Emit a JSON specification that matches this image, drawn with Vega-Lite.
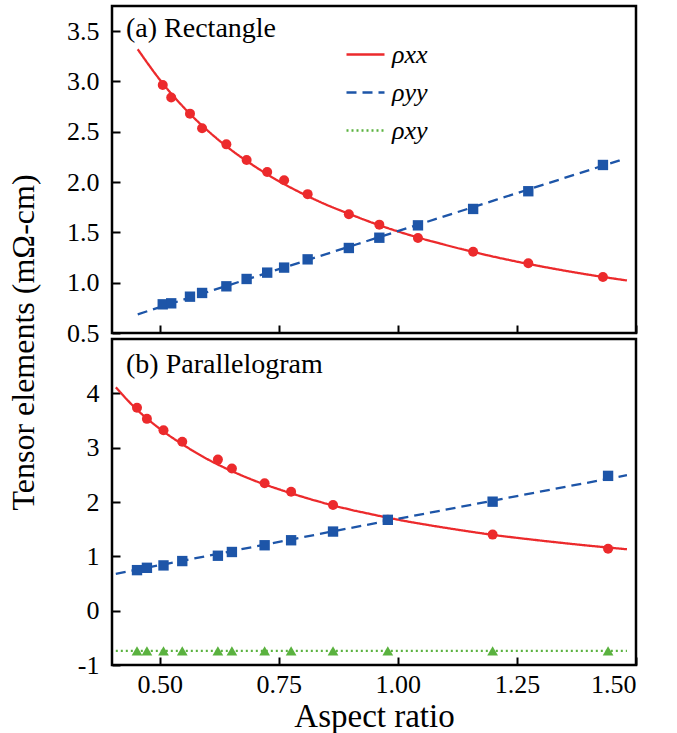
{
  "$schema": "https://vega.github.io/schema/vega-lite/v6.json",
  "background": "white",
  "padding": {"left": 5, "top": 4, "right": 5, "bottom": 0},
  "bounds": "flush",
  "spacing": 6,
  "config": {
    "font": "Liberation Serif",
    "view": {"stroke": "black", "strokeWidth": 2.5},
    "style": {"guide-label": {"font": "Liberation Serif"}, "guide-title": {"font": "Liberation Serif"}},
    "axis": {"labelFont": "Liberation Serif", "labelFontSize": 26, "labelColor": "black", "titleFont": "Liberation Serif", "titleFontWeight": "normal", "titleColor": "black", "titleFontSize": 30, "domain": false, "grid": false, "tickColor": "black", "tickWidth": 2, "tickSize": -8},
    "legend": {"labelFont": "Liberation Serif", "titleFont": "Liberation Serif"}
  },
  "datasets": {
    "rectPts": [
      {"ar": 0.5065, "v": 2.965, "s": "ρxx"}, {"ar": 0.5243, "v": 2.84, "s": "ρxx"}, {"ar": 0.5637, "v": 2.68, "s": "ρxx"}, {"ar": 0.5891, "v": 2.535, "s": "ρxx"}, {"ar": 0.6401, "v": 2.375, "s": "ρxx"}, {"ar": 0.6826, "v": 2.22, "s": "ρxx"}, {"ar": 0.7258, "v": 2.10, "s": "ρxx"}, {"ar": 0.7613, "v": 2.018, "s": "ρxx"}, {"ar": 0.8107, "v": 1.88, "s": "ρxx"}, {"ar": 0.8972, "v": 1.68, "s": "ρxx"}, {"ar": 0.9612, "v": 1.577, "s": "ρxx"}, {"ar": 1.0423, "v": 1.444, "s": "ρxx"}, {"ar": 1.1581, "v": 1.308, "s": "ρxx"}, {"ar": 1.2739, "v": 1.193, "s": "ρxx"}, {"ar": 1.4306, "v": 1.057, "s": "ρxx"},
      {"ar": 0.5065, "v": 0.785, "s": "ρyy"}, {"ar": 0.5243, "v": 0.795, "s": "ρyy"}, {"ar": 0.5637, "v": 0.861, "s": "ρyy"}, {"ar": 0.5891, "v": 0.898, "s": "ρyy"}, {"ar": 0.6401, "v": 0.964, "s": "ρyy"}, {"ar": 0.6826, "v": 1.037, "s": "ρyy"}, {"ar": 0.7258, "v": 1.10, "s": "ρyy"}, {"ar": 0.7613, "v": 1.15, "s": "ρyy"}, {"ar": 0.8107, "v": 1.232, "s": "ρyy"}, {"ar": 0.8972, "v": 1.345, "s": "ρyy"}, {"ar": 0.9612, "v": 1.447, "s": "ρyy"}, {"ar": 1.0423, "v": 1.57, "s": "ρyy"}, {"ar": 1.1581, "v": 1.733, "s": "ρyy"}, {"ar": 1.2739, "v": 1.909, "s": "ρyy"}, {"ar": 1.4306, "v": 2.17, "s": "ρyy"}
    ],
    "rectFit": [
      {"ar": 0.454, "v": 3.32, "s": "ρxx"}, {"ar": 0.50, "v": 3.02, "s": "ρxx"}, {"ar": 0.55, "v": 2.745, "s": "ρxx"}, {"ar": 0.60, "v": 2.515, "s": "ρxx"}, {"ar": 0.65, "v": 2.32, "s": "ρxx"}, {"ar": 0.70, "v": 2.155, "s": "ρxx"}, {"ar": 0.75, "v": 2.01, "s": "ρxx"}, {"ar": 0.80, "v": 1.885, "s": "ρxx"}, {"ar": 0.85, "v": 1.775, "s": "ρxx"}, {"ar": 0.90, "v": 1.68, "s": "ρxx"}, {"ar": 0.95, "v": 1.59, "s": "ρxx"}, {"ar": 1.00, "v": 1.51, "s": "ρxx"}, {"ar": 1.10, "v": 1.375, "s": "ρxx"}, {"ar": 1.20, "v": 1.26, "s": "ρxx"}, {"ar": 1.30, "v": 1.163, "s": "ρxx"}, {"ar": 1.40, "v": 1.08, "s": "ρxx"}, {"ar": 1.481, "v": 1.022, "s": "ρxx"},
      {"ar": 0.454, "v": 0.686, "s": "ρyy"}, {"ar": 1.00, "v": 1.512, "s": "ρyy"}, {"ar": 1.477, "v": 2.233, "s": "ρyy"}
    ],
    "paraPts": [
      {"ar": 0.4525, "v": 3.735, "s": "ρxx"}, {"ar": 0.4733, "v": 3.53, "s": "ρxx"}, {"ar": 0.5081, "v": 3.32, "s": "ρxx"}, {"ar": 0.5475, "v": 3.11, "s": "ρxx"}, {"ar": 0.6223, "v": 2.78, "s": "ρxx"}, {"ar": 0.6517, "v": 2.617, "s": "ρxx"}, {"ar": 0.7204, "v": 2.345, "s": "ρxx"}, {"ar": 0.7760, "v": 2.19, "s": "ρxx"}, {"ar": 0.8640, "v": 1.944, "s": "ρxx"}, {"ar": 0.9790, "v": 1.672, "s": "ρxx"}, {"ar": 1.1990, "v": 1.40, "s": "ρxx"}, {"ar": 1.4414, "v": 1.141, "s": "ρxx"},
      {"ar": 0.4525, "v": 0.746, "s": "ρyy"}, {"ar": 0.4733, "v": 0.789, "s": "ρyy"}, {"ar": 0.5081, "v": 0.833, "s": "ρyy"}, {"ar": 0.5475, "v": 0.913, "s": "ρyy"}, {"ar": 0.6223, "v": 1.011, "s": "ρyy"}, {"ar": 0.6517, "v": 1.08, "s": "ρyy"}, {"ar": 0.7204, "v": 1.204, "s": "ρyy"}, {"ar": 0.7760, "v": 1.296, "s": "ρyy"}, {"ar": 0.8640, "v": 1.456, "s": "ρyy"}, {"ar": 0.9790, "v": 1.672, "s": "ρyy"}, {"ar": 1.1990, "v": 2.006, "s": "ρyy"}, {"ar": 1.4414, "v": 2.481, "s": "ρyy"},
      {"ar": 0.4525, "v": -0.74, "s": "ρxy"}, {"ar": 0.4733, "v": -0.74, "s": "ρxy"}, {"ar": 0.5081, "v": -0.74, "s": "ρxy"}, {"ar": 0.5475, "v": -0.74, "s": "ρxy"}, {"ar": 0.6223, "v": -0.74, "s": "ρxy"}, {"ar": 0.6517, "v": -0.74, "s": "ρxy"}, {"ar": 0.7204, "v": -0.74, "s": "ρxy"}, {"ar": 0.7760, "v": -0.74, "s": "ρxy"}, {"ar": 0.8640, "v": -0.74, "s": "ρxy"}, {"ar": 0.9790, "v": -0.74, "s": "ρxy"}, {"ar": 1.1990, "v": -0.74, "s": "ρxy"}, {"ar": 1.4414, "v": -0.74, "s": "ρxy"}
    ],
    "paraFit": [
      {"ar": 0.408, "v": 4.11, "s": "ρxx"}, {"ar": 0.45, "v": 3.72, "s": "ρxx"}, {"ar": 0.50, "v": 3.35, "s": "ρxx"}, {"ar": 0.55, "v": 3.05, "s": "ρxx"}, {"ar": 0.60, "v": 2.79, "s": "ρxx"}, {"ar": 0.65, "v": 2.575, "s": "ρxx"}, {"ar": 0.70, "v": 2.39, "s": "ρxx"}, {"ar": 0.75, "v": 2.235, "s": "ρxx"}, {"ar": 0.80, "v": 2.095, "s": "ρxx"}, {"ar": 0.85, "v": 1.97, "s": "ρxx"}, {"ar": 0.90, "v": 1.86, "s": "ρxx"}, {"ar": 0.95, "v": 1.765, "s": "ρxx"}, {"ar": 1.00, "v": 1.675, "s": "ρxx"}, {"ar": 1.10, "v": 1.525, "s": "ρxx"}, {"ar": 1.20, "v": 1.395, "s": "ρxx"}, {"ar": 1.30, "v": 1.29, "s": "ρxx"}, {"ar": 1.40, "v": 1.197, "s": "ρxx"}, {"ar": 1.481, "v": 1.13, "s": "ρxx"},
      {"ar": 0.408, "v": 0.678, "s": "ρyy"}, {"ar": 1.00, "v": 1.69, "s": "ρyy"}, {"ar": 1.481, "v": 2.493, "s": "ρyy"},
      {"ar": 0.408, "v": -0.74, "s": "ρxy"}, {"ar": 1.481, "v": -0.74, "s": "ρxy"}
    ],
    "labels": [
      {"panel": "a", "name": "(a) Rectangle"},
      {"panel": "b", "name": "(b) Parallelogram"}
    ]
  },
  "resolve": {"scale": {"y": "independent"}, "legend": {"color": "independent", "strokeDash": "independent"}},
  "vconcat": [
    {
      "width": 524,
      "height": 327,
      "layer": [
        {
          "data": {"name": "rectFit"},
          "mark": {"type": "line", "interpolate": "monotone", "strokeWidth": 2.3},
          "encoding": {
            "x": {"field": "ar", "type": "quantitative", "scale": {"domain": [0.4, 1.5], "nice": false, "zero": false}, "axis": {"values": [0.5, 0.75, 1.0, 1.25, 1.5], "labels": false, "title": null}},
            "y": {"field": "v", "type": "quantitative", "scale": {"domain": [0.5, 3.75], "nice": false, "zero": false}, "axis": {"values": [0.5, 1.0, 1.5, 2.0, 2.5, 3.0, 3.5], "format": ".1f", "labelFont": "Liberation Serif", "labelFontSize": 26, "labelPadding": 21, "title": "Tensor elements (mΩ-cm)", "titleFont": "Liberation Serif", "titleFontSize": 32, "titleX": -79, "titleY": 336, "titleBaseline": "alphabetic", "titleAlign": "center"}},
            "color": {"field": "s", "type": "nominal", "scale": {"domain": ["ρxx", "ρyy", "ρxy"], "range": ["#ec2a2c", "#1d55a8", "#5ab23f"]}, "legend": {"title": null, "orient": "none", "legendX": 233, "legendY": 28, "symbolType": "stroke", "symbolSize": 1444, "symbolStrokeWidth": 2.5, "labelFont": "Liberation Serif", "labelFontSize": 26, "labelFontStyle": "italic", "labelColor": "black", "rowPadding": 4, "labelOffset": 6}},
            "strokeDash": {"field": "s", "type": "nominal", "scale": {"domain": ["ρxx", "ρyy", "ρxy"], "range": [[1, 0], [10, 6], [2, 3]]}, "legend": {"title": null, "orient": "none", "legendX": 233, "legendY": 28, "symbolType": "stroke", "symbolSize": 1444, "symbolStrokeWidth": 2.5, "labelFont": "Liberation Serif", "labelFontSize": 26, "labelFontStyle": "italic", "labelColor": "black", "rowPadding": 4, "labelOffset": 6}}
          }
        },
        {
          "data": {"name": "rectPts"},
          "mark": {"type": "point", "filled": true, "opacity": 1, "strokeWidth": 0},
          "encoding": {
            "x": {"field": "ar", "type": "quantitative"},
            "y": {"field": "v", "type": "quantitative"},
            "fill": {"field": "s", "type": "nominal", "scale": {"domain": ["ρxx", "ρyy", "ρxy"], "range": ["#ec2a2c", "#1d55a8", "#5ab23f"]}, "legend": null},
            "shape": {"field": "s", "type": "nominal", "scale": {"domain": ["ρxx", "ρyy", "ρxy"], "range": ["circle", "square", "triangle-up"]}, "legend": null},
            "size": {"field": "s", "type": "nominal", "scale": {"domain": ["ρxx", "ρyy", "ρxy"], "range": [100, 115, 75]}, "legend": null}
          }
        },
        {
          "data": {"name": "labels"},
          "transform": [{"filter": "datum.panel === 'a'"}],
          "mark": {"type": "text", "align": "left", "baseline": "alphabetic", "dx": 14, "dy": 31, "font": "Liberation Serif", "fontSize": 28, "color": "black"},
          "encoding": {"text": {"field": "name"}, "x": {"datum": 0.4}, "y": {"datum": 3.75}}
        }
      ]
    },
    {
      "width": 524,
      "height": 326,
      "layer": [
        {
          "data": {"name": "paraFit"},
          "mark": {"type": "line", "interpolate": "monotone", "strokeWidth": 2.3},
          "encoding": {
            "x": {"field": "ar", "type": "quantitative", "scale": {"domain": [0.4, 1.5], "nice": false, "zero": false}, "axis": {"values": [0.5, 0.75, 1.0, 1.25, 1.5], "format": ".2f", "labelFont": "Liberation Serif", "labelFontSize": 26, "labelPadding": 14, "title": "Aspect ratio", "titleFont": "Liberation Serif", "titleFontSize": 33, "titlePadding": 3}},
            "y": {"field": "v", "type": "quantitative", "scale": {"domain": [-1, 5], "nice": false, "zero": false}, "axis": {"values": [-1, 0, 1, 2, 3, 4], "format": "d", "labelExpr": "replace(datum.label, '\u2212', '-')", "labelFont": "Liberation Serif", "labelFontSize": 26, "labelPadding": 21, "title": null}},
            "color": {"field": "s", "type": "nominal", "scale": {"domain": ["ρxx", "ρyy", "ρxy"], "range": ["#ec2a2c", "#1d55a8", "#5ab23f"]}, "legend": null},
            "strokeDash": {"field": "s", "type": "nominal", "scale": {"domain": ["ρxx", "ρyy", "ρxy"], "range": [[1, 0], [10, 6], [2, 3]]}, "legend": null}
          }
        },
        {
          "data": {"name": "paraPts"},
          "mark": {"type": "point", "filled": true, "opacity": 1, "strokeWidth": 0},
          "encoding": {
            "x": {"field": "ar", "type": "quantitative"},
            "y": {"field": "v", "type": "quantitative"},
            "fill": {"field": "s", "type": "nominal", "scale": {"domain": ["ρxx", "ρyy", "ρxy"], "range": ["#ec2a2c", "#1d55a8", "#5ab23f"]}, "legend": null},
            "shape": {"field": "s", "type": "nominal", "scale": {"domain": ["ρxx", "ρyy", "ρxy"], "range": ["circle", "square", "triangle-up"]}, "legend": null},
            "size": {"field": "s", "type": "nominal", "scale": {"domain": ["ρxx", "ρyy", "ρxy"], "range": [100, 115, 75]}, "legend": null}
          }
        },
        {
          "data": {"name": "labels"},
          "transform": [{"filter": "datum.panel === 'b'"}],
          "mark": {"type": "text", "align": "left", "baseline": "alphabetic", "dx": 14, "dy": 34, "font": "Liberation Serif", "fontSize": 28, "color": "black"},
          "encoding": {"text": {"field": "name"}, "x": {"datum": 0.4}, "y": {"datum": 5}}
        }
      ]
    }
  ]
}
